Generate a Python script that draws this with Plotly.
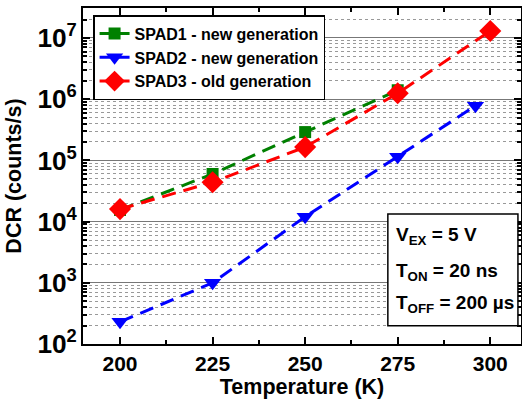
import plotly.graph_objects as go

temps_spad1 = [200, 225, 250, 275]
dcr_spad1 = [1.55e4, 6.0e4, 2.9e5, 1.4e6]

temps_spad2 = [200, 225, 250, 275, 296]
dcr_spad2 = [230, 1000, 1.2e4, 1.15e5, 7.8e5]

temps_spad3 = [200, 225, 250, 275, 300]
dcr_spad3 = [1.6e4, 4.4e4, 1.65e5, 1.25e6, 1.3e7]

names = ["SPAD1 - new generation", "SPAD2 - new generation", "SPAD3 - old generation"]
colors = ["#008000", "#0000ff", "#ff0000"]
symbols = ["square", "triangle-down", "diamond"]
sizes = [12, 15, 17]

x_ticks = [200, 225, 250, 275, 300]
info_lines = ["V<sub>EX</sub> = 5 V", "T<sub>ON</sub> = 20 ns", "T<sub>OFF</sub> = 200 µs"]

FONT = "Liberation Sans, Arial, sans-serif"

fig = go.Figure()
series = [(temps_spad1, dcr_spad1), (temps_spad2, dcr_spad2), (temps_spad3, dcr_spad3)]
for (xs, ys), name, c, s, sz in zip(series, names, colors, symbols, sizes):
    fig.add_trace(go.Scatter(
        x=xs, y=ys, mode="lines+markers", name=name, showlegend=False,
        line=dict(color=c, width=3, dash="14px,8px"),
        marker=dict(symbol=s, size=sz, color=c, line=dict(width=0)),
    ))
# legend entries (solid line samples)
for name, c, s, sz in zip(names, colors, symbols, sizes):
    fig.add_trace(go.Scatter(
        x=[None], y=[None], mode="lines+markers", name=name,
        line=dict(color=c, width=3),
        marker=dict(symbol=s, size=sz, color=c, line=dict(width=0)),
    ))

fig.update_layout(
    width=522, height=399,
    margin=dict(l=83, r=1, t=8, b=55),
    paper_bgcolor="white", plot_bgcolor="white",
    font=dict(family=FONT, color="black", size=18, weight="bold"),
    showlegend=True,
    legend=dict(
        x=0.023, y=0.979, xanchor="left", yanchor="top",
        bgcolor="white", bordercolor="black", borderwidth=1.5,
        font=dict(family=FONT, size=16, weight="bold"),
        tracegroupgap=0,
    ),
    xaxis=dict(
        range=[190, 308.3], tickvals=x_ticks, automargin=False,
        ticks="inside", ticklen=7, tickwidth=1.5, tickcolor="black",
        showline=True, linecolor="black", linewidth=2, mirror="ticks",
        showgrid=False, zeroline=False,
        minor=dict(dtick=12.5, tick0=200, ticks="inside", ticklen=4, tickcolor="black", showgrid=False),
        title=dict(text="Temperature (K)", font=dict(size=21.5, weight="bold"), standoff=6),
        tickfont=dict(size=21, weight="bold"),
    ),
    yaxis=dict(
        type="log", range=[2, 7.49], dtick=1, exponentformat="power", automargin=False,
        ticks="inside", ticklen=7, tickwidth=1.5, tickcolor="black",
        showline=True, linecolor="black", linewidth=2, mirror="ticks",
        showgrid=True, gridcolor="#777777", gridwidth=1, zeroline=False,
        minor=dict(dtick="D1", ticks="inside", ticklen=4, tickcolor="black",
                   showgrid=True, gridcolor="#999999", griddash="dot", gridwidth=1),
        title=dict(text="DCR (counts/s)", font=dict(size=21.5, weight="bold"), standoff=10),
        tickfont=dict(size=21, weight="bold"),
    ),
)

fig.add_shape(
    type="rect", xref="paper", yref="paper",
    x0=0.696, x1=0.993, y0=0.054, y1=0.387,
    line=dict(color="black", width=1.5), fillcolor="white", layer="above",
)
for txt, yy in zip(info_lines, [0.322, 0.215, 0.118]):
    fig.add_annotation(
        xref="paper", yref="paper", x=0.71, y=yy, xanchor="left", yanchor="middle",
        text=txt, showarrow=False, align="left",
        font=dict(family=FONT, size=19, weight="bold", color="black"),
    )

fig.write_html(
    "out.html",
    config={"displayModeBar": False},
    post_script="document.body.style.margin='0px';document.body.style.overflow='hidden';",
)
